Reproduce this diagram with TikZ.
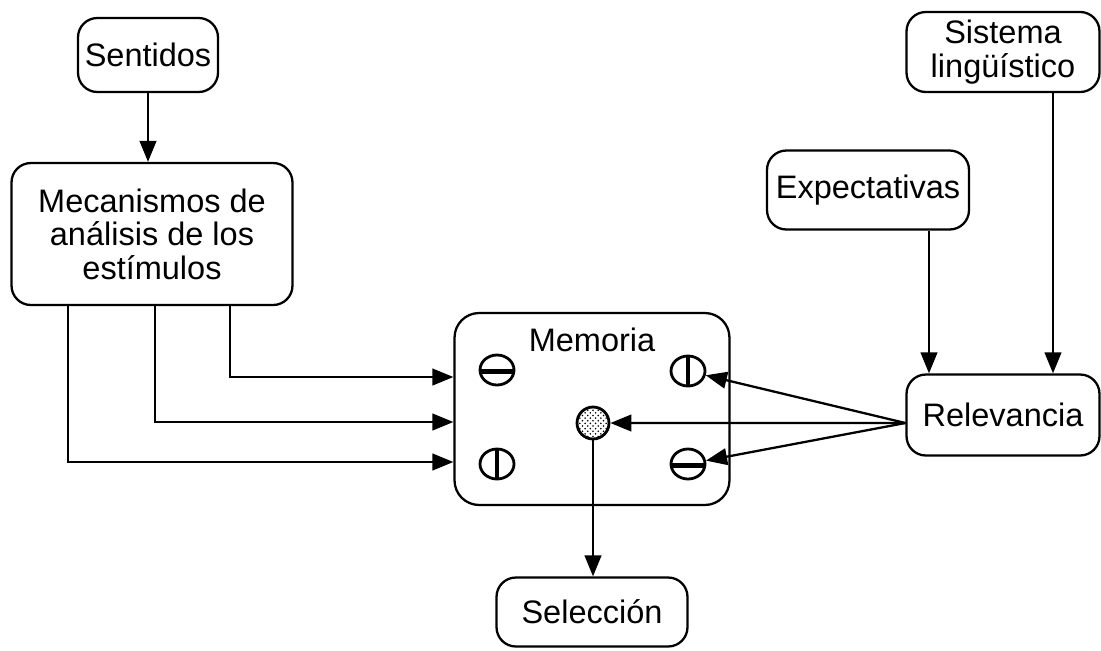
\documentclass[tikz,border=0pt]{standalone}
\usepackage{fontspec}
\setmainfont{Liberation Sans}
\usepackage{tikz}
\usetikzlibrary{positioning}
\usetikzlibrary{arrows.meta,shapes.geometric,patterns}

\begin{document}
\begin{tikzpicture}[x=0.02cm,y=-0.02cm,line width=1.3pt,
        >={Triangle[length=12pt,width=9.5pt]},
        box/.style={draw,rounded corners=11pt,align=center,inner sep=2pt,
          font=\fontsize{18.5}{19}\selectfont},
        symbol/.style={draw,line width=1.6pt,ellipse,minimum width=0.68cm,minimum height=0.6cm,inner sep=0pt},
        hbar/.style={symbol,path picture={\draw[line width=2.6pt]
          ([yshift=-1pt]path picture bounding box.west) -- ([yshift=-1pt]path picture bounding box.east);}},
        vbar/.style={symbol,path picture={\draw[line width=2.6pt]
          (path picture bounding box.north) -- (path picture bounding box.south);}}]
        \useasboundingbox (0,0) rectangle (1101,650);

        \node[box,minimum width=2.8cm,minimum height=1.48cm] (sen) at (148,55) {Sentidos};
        \node[box,minimum width=5.62cm,minimum height=2.84cm] (mec) at (152,234)
          {Mecanismos de\\análisis de los\\estímulos};
        \node[box,minimum width=5.5cm,minimum height=3.84cm,rounded corners=14pt] (mem) at (592,409) {};
        \node[font=\fontsize{18.5}{19}\selectfont] (memlbl) at (592,340) {Memoria};
        \node[box,minimum width=3.82cm,minimum height=1.38cm] (sel) at (592,612) {Selección};
        \node[box,minimum width=3.86cm,minimum height=1.6cm] (sis) at (1003,52) {Sistema\\lingüístico};
        \node[box,minimum width=4.04cm,minimum height=1.58cm] (exp) at (868,190) {Expectativas};
        \node[box,minimum width=3.86cm,minimum height=1.62cm] (rel) at (1003,415) {Relevancia};

        % simbolos dentro de la memoria
        \node[hbar] (s1) at (497,370) {};
        \node[vbar] (s2) at (688,371) {};
        \node[vbar] (s3) at (497,464) {};
        \node[hbar] (s4) at (688,464) {};
        \node[draw,circle,line width=1.6pt,minimum size=0.64cm,inner sep=0pt,pattern=crosshatch dots] (dot) at (593,423) {};

        \path[->]
        (sen.south) edge (sen.south |- mec.north)
        (dot.south) edge (dot.south |- sel.north)
        ([yshift=-0.16cm]rel.west) edge (s2)
        ([yshift=-0.16cm]rel.west) edge (dot.east)
        ([yshift=-0.16cm]rel.west) edge (s4);

        \draw[->] ([xshift=1.56cm]mec.south) |- ([yshift=0.64cm]mem.west);
        \draw[->] ([xshift=0.06cm]mec.south) |- ([yshift=-0.26cm]mem.west);
        \draw[->] ([xshift=-1.68cm]mec.south) |- ([yshift=-1.06cm]mem.west);
        \draw[->] ([xshift=1.22cm]exp.south) -- ([xshift=1.22cm]exp.south |- rel.north);
        \draw[->] ([xshift=1cm]sis.south) -- ([xshift=1cm]sis.south |- rel.north);
      \end{tikzpicture}
\end{document}
